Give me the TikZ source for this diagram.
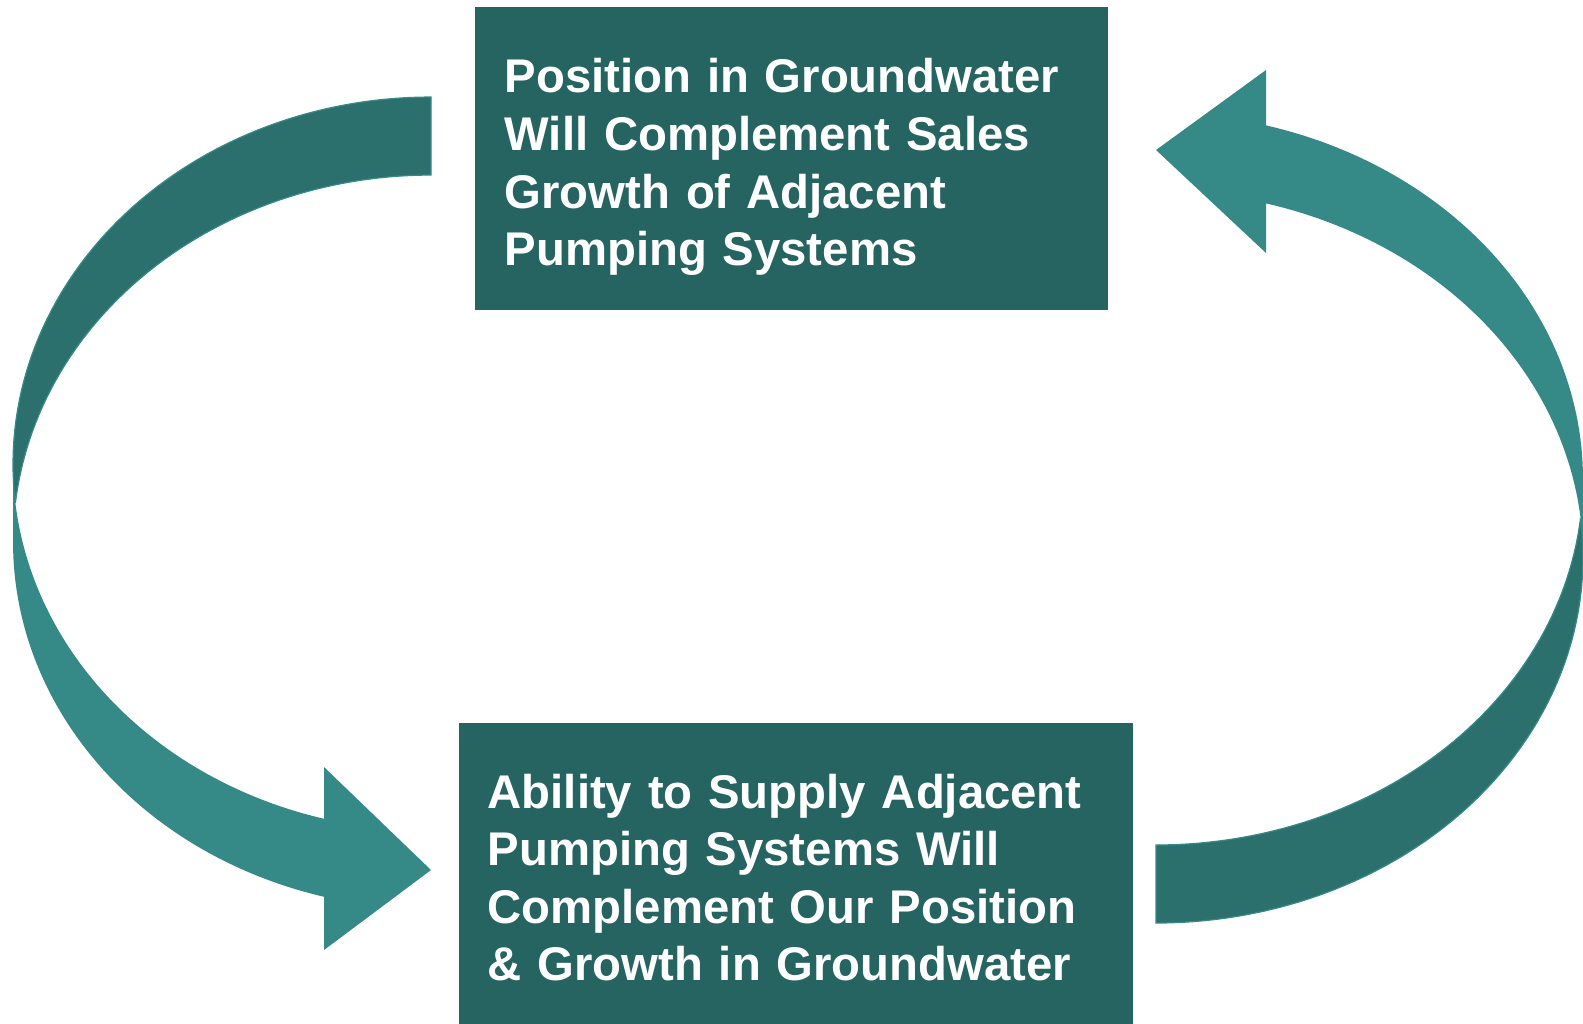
\documentclass[tikz,border=0pt]{standalone}
\usepackage{fontspec}
\setmainfont{Liberation Sans}
\usepackage{xcolor}
\usepackage{tikz}
\usetikzlibrary{positioning}
\definecolor{boxTeal}{HTML}{266461}
\definecolor{arrowLight}{HTML}{358A88}
\definecolor{arrowDark}{HTML}{2C706D}

\begin{document}
\begin{tikzpicture}[x=0.01cm, y=-0.01cm,
    box/.style={fill=boxTeal, inner sep=0pt},
    boxtext/.style={text=white, inner sep=0pt, text width=6.3cm, align=left,
        font=\fontsize{13.45pt}{16.36pt}\selectfont\bfseries},
    front/.style={fill=arrowLight},
    back/.style={fill=arrowDark, draw=arrowLight, line width=0.35pt}]
        \useasboundingbox (0,0) rectangle (1583,1023);

        % left arrow, front face: (431,*) is the tip column
        \fill[front] plot[domain=180:104.83, samples=60] ({431+418*cos(\x)},{464+367*sin(\x)})
            -- (324,767) -- (431,870) -- (324,950)
            -- plot[domain=104.83:180, samples=60] ({431+418*cos(\x)},{542+367*sin(\x)}) -- cycle;
        % left arrow, back face
        \filldraw[back] plot[domain=270:186.1, samples=60] ({431+418*cos(\x)},{542+367*sin(\x)})
            -- plot[domain=173.9:270, samples=60] ({431+418*cos(\x)},{464+367*sin(\x)}) -- cycle;

        % right arrow, front face
        \fill[front] plot[domain=0:-75.07, samples=60] ({1156+427*cos(\x)},{557+366*sin(\x)})
            -- (1266,253) -- (1156,150) -- (1266,70)
            -- plot[domain=-75.07:0, samples=60] ({1156+427*cos(\x)},{479+366*sin(\x)}) -- cycle;
        % right arrow, back face
        \filldraw[back] plot[domain=90:6.12, samples=60] ({1156+427*cos(\x)},{479+366*sin(\x)})
            -- plot[domain=-6.12:90, samples=60] ({1156+427*cos(\x)},{557+366*sin(\x)}) -- cycle;

        % boxes
        \node[box, minimum width=6.33cm, minimum height=3.03cm] (topbox) at (791.5,158.5) {};
        \node[box, minimum width=6.74cm, minimum height=3.03cm] (botbox) at (796,874.5) {};

        \node[boxtext, anchor=north west] (toptext) at (504,58)
            {Position in Groundwater\\Will Complement Sales\\Growth of Adjacent\\Pumping Systems};
        \node[boxtext, anchor=north west] (bottext) at (487,773)
            {Ability to Supply Adjacent\\Pumping Systems Will\\Complement Our Position\\\& Growth in Groundwater};
    \end{tikzpicture}
\end{document}
